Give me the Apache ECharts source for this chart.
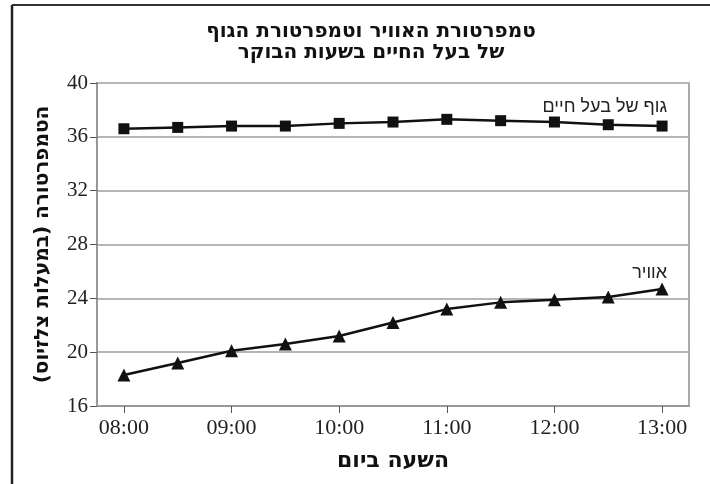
<!DOCTYPE html>
<html><head><meta charset="utf-8">
<script src="https://cdn.jsdelivr.net/npm/echarts@6/dist/echarts.min.js"></script>
<style>html,body{margin:0;padding:0;background:#fff}#c{width:710px;height:484px}</style>
</head><body><div id="c"></div>
<script>
const categories = ['08:00','08:30','09:00','09:30','10:00','10:30','11:00','11:30','12:00','12:30','13:00'];
const bodyTemp = [36.6, 36.7, 36.8, 36.8, 37.0, 37.1, 37.3, 37.2, 37.1, 36.9, 36.8];
const airTemp = [18.3, 19.2, 20.1, 20.6, 21.2, 22.2, 23.2, 23.7, 23.9, 24.1, 24.7];
const yTicks = [16, 20, 24, 28, 32, 36, 40];
const titleText = 'טמפרטורת האוויר וטמפרטורת הגוף\nשל בעל החיים בשעות הבוקר';
const yName = 'הטמפרטורה (במעלות צלזיוס)';
const xName = 'השעה ביום';
const bodyName = 'גוף של בעל חיים';
const airName = 'אוויר';

const chart = echarts.init(document.getElementById('c'), null, {renderer:'canvas'});
const serif = 'Liberation Serif';
const heb = 'DejaVu Sans';
function lastLabel(name, off){
  return {
    show:true, position:'top', align:'right', offset:off,
    fontFamily:'Liberation Sans', fontSize:18, color:'#222',
    formatter:(p)=> p.dataIndex === categories.length-1 ? name : ''
  };
}
chart.setOption({
  animation:false,
  backgroundColor:'#fff',
  title:{
    text:titleText, left:366, top:16, textAlign:'center',
    textStyle:{fontFamily:heb, fontWeight:'bold', fontSize:20, color:'#111', lineHeight:21}
  },
  grid:{left:97, right:21, top:83, bottom:78, show:true, borderColor:'#aaa', borderWidth:2},
  xAxis:{
    type:'category', data:categories, boundaryGap:true,
    name:xName, nameLocation:'middle', nameGap:44,
    nameTextStyle:{fontFamily:heb, fontWeight:'bold', fontSize:22, color:'#111'},
    axisLine:{show:true, lineStyle:{color:'#999', width:2}},
    axisTick:{show:true, alignWithLabel:true, interval:1, length:7, lineStyle:{color:'#555'}},
    axisLabel:{interval:1, fontFamily:serif, fontSize:22, color:'#222', margin:11},
    splitLine:{show:false}
  },
  yAxis:{
    type:'value', min:yTicks[0], max:yTicks[yTicks.length-1], interval:4,
    name:yName, nameLocation:'middle', nameGap:44, nameRotate:90,
    nameTextStyle:{fontFamily:heb, fontWeight:'bold', fontSize:20, color:'#111'},
    axisLine:{show:true, lineStyle:{color:'#999', width:2}},
    axisTick:{show:true, length:7, lineStyle:{color:'#555'}},
    axisLabel:{fontFamily:serif, fontSize:21, color:'#222', margin:9},
    splitLine:{show:true, lineStyle:{color:'#b5b5b5', width:2}}
  },
  series:[
    {type:'line', name:bodyName, data:bodyTemp, symbol:'rect', symbolSize:11,
     itemStyle:{color:'#111'}, lineStyle:{color:'#111', width:2.5},
     label:lastLabel(bodyName,[5,0])},
    {type:'line', name:airName, data:airTemp, symbol:'triangle', symbolSize:13,
     itemStyle:{color:'#111'}, lineStyle:{color:'#111', width:2.5},
     label:lastLabel(airName,[5,5])}
  ],
  graphic:[
    {type:'line', shape:{x1:12, y1:5, x2:710, y2:5}, style:{stroke:'#333', lineWidth:2}},
    {type:'line', shape:{x1:12, y1:5, x2:12, y2:484}, style:{stroke:'#222', lineWidth:2.5}}
  ]
});
</script></body></html>
